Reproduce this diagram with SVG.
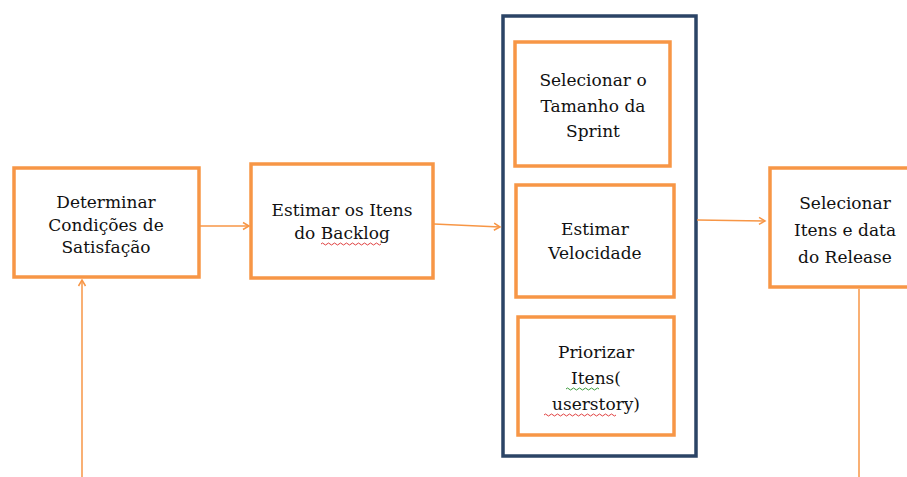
<svg xmlns="http://www.w3.org/2000/svg" width="907" height="477" viewBox="0 0 907 477">
  <defs>
    <marker id="arrow" markerWidth="10" markerHeight="10" refX="8" refY="5" orient="auto" markerUnits="userSpaceOnUse">
      <path d="M2,1.5 L8,5 L2,8.5" fill="none" stroke="#F79646" stroke-width="1.5"/>
    </marker>
  </defs>
  <style>
    .box { fill: #FFFFFF; stroke: #F79646; stroke-width: 3.5; }
    .frame { fill: none; stroke: #2B4466; stroke-width: 3.5; }
    .link { fill: none; stroke: #F79646; stroke-width: 1.5; }
    .label { font-family: "DejaVu Serif", "Liberation Serif", serif; font-size: 17px; fill: #111111; text-anchor: middle; }
    .squiggle-red { fill: none; stroke: #E04040; stroke-width: 1; }
    .squiggle-green { fill: none; stroke: #3A9A3A; stroke-width: 1; }
  </style>
  <rect width="907" height="477" fill="#FFFFFF"/>

  <!-- release planning frame -->
  <g id="sprint-frame">
    <rect class="frame" x="503" y="16" width="193" height="440"/>
  </g>

  <g id="connectors">
    <line class="link" x1="200" y1="226" x2="249" y2="226" marker-end="url(#arrow)"/>
    <line class="link" x1="434" y1="224" x2="500" y2="227" marker-end="url(#arrow)"/>
    <line class="link" x1="697" y1="220" x2="765" y2="221" marker-end="url(#arrow)"/>
    <line class="link" x1="82" y1="477" x2="82" y2="280" marker-end="url(#arrow)"/>
    <line class="link" x1="859" y1="289" x2="859" y2="477"/>
  </g>

  <g id="determinar">
    <rect class="box" x="14" y="168" width="185" height="109"/>
    <text class="label" x="106" y="208">Determinar</text>
    <text class="label" x="106" y="231">Condições de</text>
    <text class="label" x="106" y="253">Satisfação</text>
  </g>

  <g id="estimar-itens">
    <rect class="box" x="251" y="164" width="182" height="114"/>
    <text class="label" x="342" y="216">Estimar os Itens</text>
    <text class="label" x="342" y="239">do Backlog</text>
    <path class="squiggle-red" d="M321,244 q1.5,-2 3,0 t3,0 t3,0 t3,0 t3,0 t3,0 t3,0 t3,0 t3,0 t3,0 t3,0 t3,0 t3,0 t3,0 t3,0 t3,0 t3,0 t3,0 t3,0 t3,0"/>
  </g>

  <g id="tamanho-sprint">
    <rect class="box" x="515" y="42" width="155" height="124"/>
    <text class="label" x="593" y="86">Selecionar o</text>
    <text class="label" x="593" y="112">Tamanho da</text>
    <text class="label" x="593" y="137">Sprint</text>
  </g>

  <g id="velocidade">
    <rect class="box" x="516" y="185" width="158" height="112"/>
    <text class="label" x="595" y="235">Estimar</text>
    <text class="label" x="595" y="259">Velocidade</text>
  </g>

  <g id="priorizar">
    <rect class="box" x="518" y="317" width="156" height="118"/>
    <text class="label" x="596" y="358">Priorizar</text>
    <text class="label" x="596" y="384">Itens(</text>
    <path class="squiggle-green" d="M566,389 q1.5,-2 3,0 t3,0 t3,0 t3,0 t3,0 t3,0 t3,0 t3,0 t3,0 t3,0 t3,0"/>
    <text class="label" x="596" y="410">userstory)</text>
    <path class="squiggle-red" d="M544,415 q1.5,-2 3,0 t3,0 t3,0 t3,0 t3,0 t3,0 t3,0 t3,0 t3,0 t3,0 t3,0 t3,0 t3,0 t3,0 t3,0 t3,0 t3,0 t3,0 t3,0 t3,0 t3,0 t3,0 t3,0 t3,0"/>
  </g>

  <g id="release">
    <rect class="box" x="770" y="168" width="150" height="119"/>
    <text class="label" x="845" y="209">Selecionar</text>
    <text class="label" x="845" y="236">Itens e data</text>
    <text class="label" x="845" y="263">do Release</text>
  </g>
</svg>
